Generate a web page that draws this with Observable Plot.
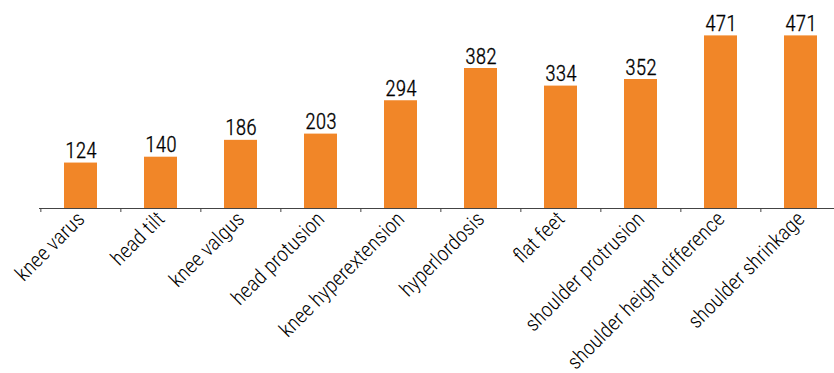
<!DOCTYPE html>
<html>
<head>
<meta charset="utf-8">
<script src="https://cdn.jsdelivr.net/npm/d3@7"></script>
<script src="https://cdn.jsdelivr.net/npm/@observablehq/plot@0.6"></script>
<style>
  html, body { margin: 0; padding: 0; background: #fff; }
  svg { display: block; }
</style>
</head>
<body>
<div id="chart"></div>
<script>
const categories = ["knee varus", "head tilt", "knee valgus", "head protusion", "knee hyperextension", "hyperlordosis", "flat feet", "shoulder protrusion", "shoulder height difference", "shoulder shrinkage"];
const counts = [124, 140, 186, 203, 294, 382, 334, 352, 471, 471];

const data = categories.map((c, i) => ({category: c, count: counts[i]}));

const W = 834, ML = 39, MR = -8;
const step = (W - ML - MR) / categories.length;
const font = "'Liberation Sans Narrow', 'Roboto Condensed', 'Arial Narrow', sans-serif";

const chart = Plot.plot({
  width: W,
  height: 373,
  marginLeft: ML,
  marginRight: MR,
  marginTop: 20,
  marginBottom: 165,
  style: {fontFamily: font, fontWeight: 300, color: "#000", background: "#fff", overflow: "visible"},
  x: {domain: categories, paddingInner: 0.59, paddingOuter: 0.295, label: null},
  y: {domain: [0, 513], axis: null},
  marks: [
    Plot.barY(data, {x: "category", y: "count", fill: "#F18628"}),
    Plot.text(data, {x: "category", y: "count", text: d => String(d.count), dy: -5, lineAnchor: "bottom", fontSize: 21.5, fill: "#000", stroke: "#000", strokeWidth: 0.3}),
    Plot.ruleY([0], {stroke: "#444", strokeWidth: 1.2}),
    Plot.axisX({tickSize: 4, text: null, dx: -step / 2, stroke: "#444"}),
    Plot.axisX({tickSize: 0, tickRotate: -45, tickPadding: 7, fontSize: 21, fill: "#000", stroke: "#000", strokeWidth: 0.3, label: null})
  ]
});
document.getElementById("chart").appendChild(chart);
</script>
</body>
</html>
